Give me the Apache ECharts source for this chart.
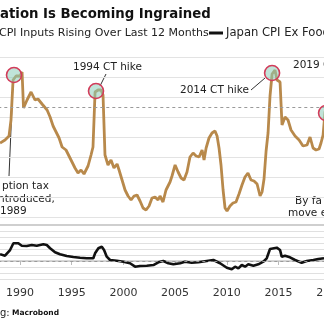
<!DOCTYPE html>
<html><head><meta charset="utf-8">
<script src="https://cdn.jsdelivr.net/npm/echarts@6.0.0/dist/echarts.min.js"></script>
<style>html,body{margin:0;padding:0;background:#fff;overflow:hidden}#c{width:324px;height:325px}</style>
</head><body><div id="c"></div>
<script>
// % of CPI inputs rising over last 12 months (top panel)
const goldYears = [1988.07,1988.55,1988.94,1989.13,1989.33,1989.62,1990.00,1990.20,1990.34,1990.68,1991.07,1991.45,1991.74,1992.13,1992.62,1992.91,1993.20,1993.49,1993.78,1994.07,1994.45,1994.74,1995.03,1995.32,1995.61,1995.90,1996.19,1996.58,1996.87,1997.06,1997.26,1997.55,1997.84,1998.03,1998.22,1998.51,1998.80,1999.09,1999.39,1999.58,1999.87,2000.16,2000.45,2000.74,2001.03,2001.32,2001.61,2001.90,2002.19,2002.48,2002.77,2003.06,2003.35,2003.54,2003.83,2004.12,2004.51,2004.70,2005.00,2005.29,2005.58,2005.86,2006.15,2006.44,2006.74,2007.03,2007.32,2007.61,2007.80,2008.00,2008.28,2008.57,2008.86,2009.06,2009.25,2009.44,2009.64,2009.83,2010.02,2010.31,2010.60,2010.89,2011.18,2011.47,2011.76,2012.05,2012.34,2012.63,2012.93,2013.22,2013.41,2013.60,2013.80,2013.99,2014.18,2014.38,2014.66,2014.86,2015.15,2015.34,2015.63,2015.92,2016.21,2016.60,2016.99,2017.37,2017.76,2018.05,2018.34,2018.63,2018.92,2019.11,2019.31,2019.50,2019.79];
const goldValues = [47,48.5,50.5,58.5,78.5,80.5,80.5,82.5,64.5,68.5,72.5,68.5,69,66.5,63.5,60,55.5,52.5,49.5,45,43.5,40.5,37.5,34.5,32,33.5,31.5,35.5,41,45,72.5,73.5,73.5,71,41,36,38.5,34.5,36.5,33.5,28.5,23.5,20.5,18.5,20.5,21,18,14.5,13.5,15.5,19.5,20,18.5,20.5,17.5,23.5,27.5,30.5,36,32.5,29.5,28.5,32.5,40,42,40.5,40,43.5,38.5,44.5,49.5,52,53,50.5,44.5,36,23.5,14.5,13,15.5,17,17.5,21.5,26,30,32,28.5,28,26.5,20.5,22.5,29,43,52,70.5,81.5,83.5,78.5,77.5,56,60,58.5,53.5,50.5,48.5,45.5,46,50,44.5,43.5,44,47,51,62.5,66];
// Japan CPI ex food & energy, YoY % (bottom panel)
const coreYears = [1988.07,1988.55,1989.04,1989.36,1989.84,1990.17,1990.65,1991.14,1991.62,1992.26,1992.59,1992.91,1993.39,1993.87,1994.52,1995.16,1995.81,1996.45,1997.09,1997.26,1997.58,1997.91,1998.13,1998.39,1998.71,1999.36,2000.00,2000.64,2001.13,2001.61,2002.26,2002.90,2003.38,2003.86,2004.35,2004.83,2005.48,2005.96,2006.61,2007.25,2008.06,2008.70,2009.35,2010.00,2010.48,2010.80,2011.12,2011.45,2011.77,2012.08,2012.57,2013.05,2013.53,2013.86,2014.18,2014.35,2014.83,2015.15,2015.31,2015.63,2016.11,2016.60,2017.24,2017.73,2018.37,2018.85,2019.40];
const coreValues = [1.12,0.88,1.83,2.95,2.95,2.55,2.5,2.67,2.55,2.78,2.67,2.12,1.45,1.12,0.83,0.67,0.55,0.45,0.45,1.28,2.12,2.38,1.83,0.72,0.17,0.05,-0.12,-0.38,-0.95,-0.83,-0.78,-0.67,-0.22,0,-0.38,-0.55,-0.38,-0.12,-0.28,-0.22,0,0.17,-0.38,-1.12,-1.38,-0.95,-1.22,-0.67,-0.95,-0.55,-0.78,-0.55,-0.12,0.45,2.0,2.28,2.22,1.83,0.72,0.88,0.62,0.17,-0.28,0,0.17,0.33,0.45];
// consumption-tax hike markers
const hikeYears = [1989.42, 1997.35, 2014.38, 2019.6];
const hikeValues = [81, 73, 82, 62];
const goldAverage = 65;
const xTickStep = 5;

const FONT = '"DejaVu Sans", Verdana, sans-serif';
const chart = echarts.init(document.getElementById('c'), null, {renderer: 'canvas'});
const zip = (a, b) => a.map((v, i) => [v, b[i]]);

const txt = (x, y, text, size, extra) => Object.assign({
  type: 'text', x: x, y: y, silent: true,
  style: Object.assign({text: text, font: size + 'px ' + FONT, fill: '#222', verticalAlign: 'middle'}, extra || {})
});
const seg = (x1, y1, x2, y2) => ({type: 'line', silent: true,
  shape: {x1: x1, y1: y1, x2: x2, y2: y2}, style: {stroke: '#333', lineWidth: 1}});

chart.setOption({
  animation: false,
  backgroundColor: '#fff',
  grid: [
    {left: -31.7, right: -57.9, top: 57, height: 160, containLabel: false, outerBoundsMode: 'none'},
    {left: -31.7, right: -57.9, top: 225, height: 54, containLabel: false, outerBoundsMode: 'none'}
  ],
  xAxis: [
    {gridIndex: 0, type: 'value', min: 1985, max: 2025, interval: xTickStep, show: false},
    {gridIndex: 1, type: 'value', min: 1985, max: 2025, interval: xTickStep,
     axisLine: {lineStyle: {color: '#c8c8c8', width: 1.5}},
     axisTick: {show: true, length: 4, lineStyle: {color: '#bbb'}},
     splitLine: {show: false},
     axisLabel: {color: '#333', fontSize: 11, fontFamily: FONT, margin: 9, formatter: v => String(v)}},
    {gridIndex: 1, type: 'value', position: 'top', min: 1985, max: 2025, interval: xTickStep,
     axisLine: {lineStyle: {color: '#cfcfcf', width: 2}}, axisTick: {show: false},
     axisLabel: {show: false}, splitLine: {show: false}}
  ],
  yAxis: [
    {gridIndex: 0, type: 'value', min: 10, max: 90, interval: 10,
     axisLine: {show: false}, axisTick: {show: false}, axisLabel: {show: false},
     splitLine: {lineStyle: {color: '#e3e3e3', width: 1}}},
    {gridIndex: 1, type: 'value', min: -3, max: 6, interval: 1,
     axisLine: {show: false}, axisTick: {show: false}, axisLabel: {show: false},
     splitLine: {lineStyle: {color: '#e0e0e0', width: 1}}}
  ],
  series: [
    {type: 'line', xAxisIndex: 0, yAxisIndex: 0, data: zip(goldYears, goldValues),
     showSymbol: false, lineStyle: {color: '#b8894b', width: 2.8}, z: 3,
     markLine: {silent: true, symbol: 'none', label: {show: false},
       lineStyle: {color: '#9a9a9a', type: [3, 3], width: 1}, data: [{yAxis: goldAverage}]},
     markPoint: {symbol: 'circle', symbolSize: 15, label: {show: false}, silent: true,
       itemStyle: {color: 'rgba(140,205,185,0.55)', borderColor: '#d23c5a', borderWidth: 1.6},
       data: zip(hikeYears, hikeValues).map(c => ({coord: c}))}},
    {type: 'line', xAxisIndex: 1, yAxisIndex: 1, data: zip(coreYears, coreValues),
     showSymbol: false, lineStyle: {color: '#111', width: 2.6}, z: 3,
     markLine: {silent: true, symbol: 'none', label: {show: false},
       lineStyle: {color: '#9a9a9a', type: [3, 3], width: 1}, data: [{yAxis: 0}]}}
  ],
  graphic: [
    txt(0, 15, 'ation Is Becoming Ingrained', 13, {font: 'bold 13.3px ' + FONT, fill: '#111'}),
    txt(-1, 33, 'CPI Inputs Rising Over Last 12 Months', 11),
    {type: 'rect', silent: true, shape: {x: 209, y: 31.5, width: 14, height: 3}, style: {fill: '#111'}},
    txt(226, 33, 'Japan CPI Ex Food', 11.6),
    txt(73, 67, '1994 CT hike', 10.5),
    seg(106, 74, 100, 86),
    txt(180, 90, '2014 CT hike', 10.5),
    seg(251, 90, 265, 78),
    txt(293, 65, '2019 C', 10.5),
    seg(13, 82, 9, 176),
    txt(2, 186, 'ption tax', 10.5),
    txt(-2, 199, 'ntroduced,', 10.5),
    txt(0, 211, '1989', 10.5),
    txt(295, 201, 'By fa', 10.5),
    txt(288, 213, 'move ex', 10.5),
    txt(0, 313, 'g:', 10),
    txt(12, 313, 'Macrobond', 7.5, {font: 'bold 7.5px ' + FONT, fill: '#111'})
  ]
});
</script></body></html>
